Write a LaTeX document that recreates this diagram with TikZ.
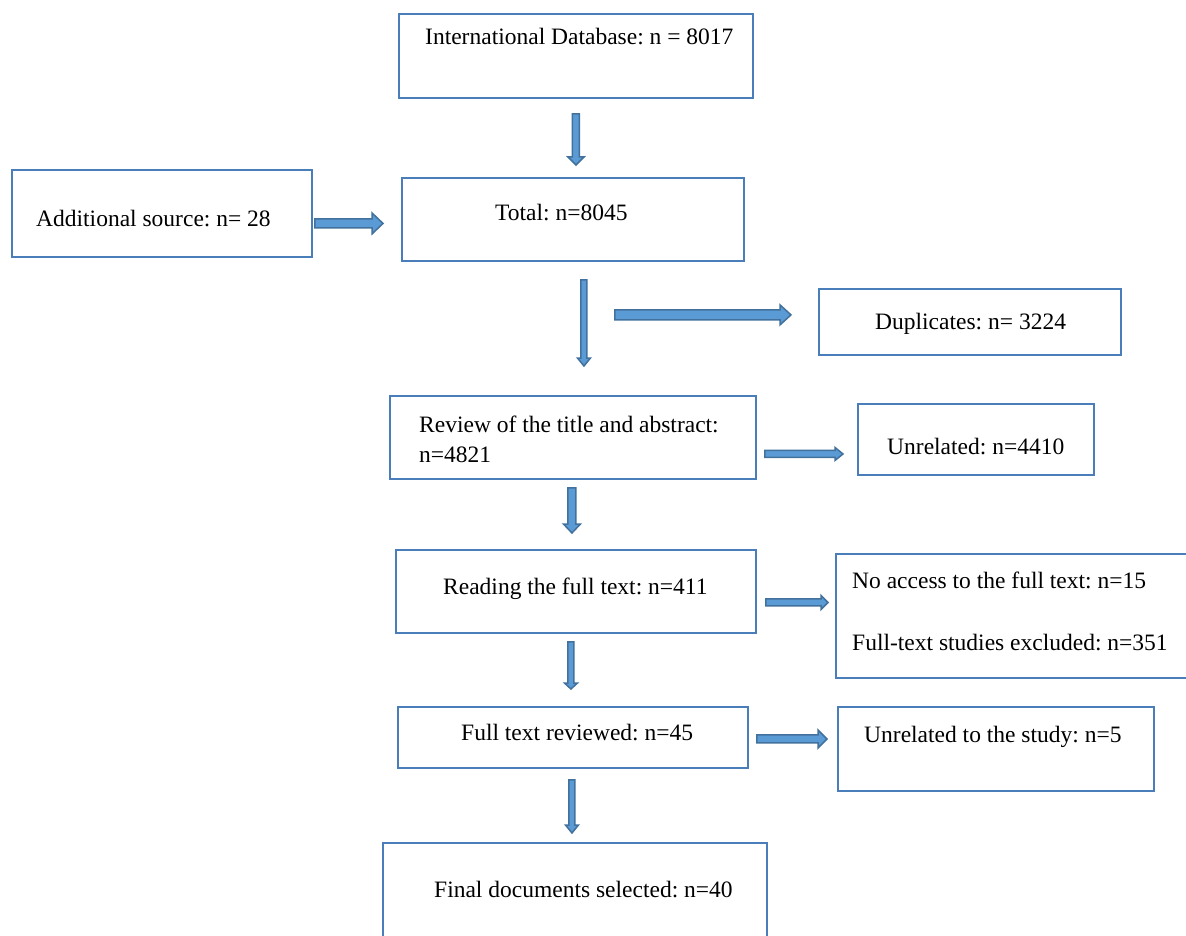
\documentclass[tikz,border=0pt]{standalone}
\usepackage{fontspec}
\setmainfont{Liberation Serif}
\frenchspacing
\usetikzlibrary{calc}
\definecolor{boxline}{HTML}{4A7EBB}
\definecolor{arrfill}{HTML}{5B9BD5}
\definecolor{arrline}{HTML}{41719C}
\tikzset{
  box/.style={draw=boxline, line width=1.9pt, fill=white, rectangle, inner sep=0pt, anchor=north west},
  txt/.style={inner sep=0pt, anchor=base west, font=\fontsize{23.5}{28}\selectfont\frenchspacing},
  blk/.style={fill=arrfill, draw=arrline, line width=1.5pt, line join=miter}
}
\newcommand\blkdown[5]{%
  \filldraw[blk] let \p1=#1, \p2=#2 in
    (\x1-#3,\y1) -- (\x1+#3,\y1) -- (\x1+#3,\y2+#5) -- (\x1+#4,\y2+#5) --
    (\x1,\y2) -- (\x1-#4,\y2+#5) -- (\x1-#3,\y2+#5) -- cycle;}
\newcommand\blkright[5]{%
  \filldraw[blk] let \p1=#1, \p2=#2 in
    (\x1,\y1-#3) -- (\x1,\y1+#3) -- (\x2-#5,\y1+#3) -- (\x2-#5,\y1+#4) --
    (\x2,\y1) -- (\x2-#5,\y1-#4) -- (\x2-#5,\y1-#3) -- cycle;}
\begin{document}
\begin{tikzpicture}[x=1pt,y=-1pt]
\useasboundingbox (0,0) rectangle (1186,936);
\clip (0,0) rectangle (1186,936);
\fill[white] (0,0) rectangle (1186,936);

% boxes
\node[box, minimum width=354pt, minimum height=84pt] (db) at (398,13) {};
\node[box, minimum width=300pt, minimum height=87pt] (add) at (11,169) {};
\node[box, minimum width=342pt, minimum height=83pt] (total) at (401,177) {};
\node[box, minimum width=302pt, minimum height=66pt] (dup) at (818,288) {};
\node[box, minimum width=366pt, minimum height=83pt] (review) at (389,395) {};
\node[box, minimum width=236pt, minimum height=71pt] (unrel) at (857,403) {};
\node[box, minimum width=360pt, minimum height=83pt] (reading) at (395,549) {};
\node[box, minimum width=380pt, minimum height=124pt] (noacc) at (835,553) {};
\node[box, minimum width=350pt, minimum height=61pt] (ftr) at (397,706) {};
\node[box, minimum width=316pt, minimum height=84pt] (unst) at (837,706) {};
\node[box, minimum width=384pt, minimum height=120pt] (final) at (382,842) {};

% texts
\node[txt] (dbt) at (425,45) {International Database: n = 8017};
\node[txt] (addt) at (36,227) {Additional source: n= 28};
\node[txt] (totalt) at (495,221) {Total: n=8045};
\node[txt] (dupt) at (875,329) {Duplicates: n= 3224};
\node[txt] (reviewt1) at (419,432) {Review of the title and abstract:};
\node[txt] (reviewt2) at (419,462) {n=4821};
\node[txt] (unrelt) at (887,454) {Unrelated: n=4410};
\node[txt] (readingt) at (443,594) {Reading the full text: n=411};
\node[txt] (noacct1) at (852,588) {No access to the full text: n=15};
\node[txt] (noacct2) at (852,650) {Full-text studies excluded: n=351};
\node[txt] (ftrt) at (461,740) {Full text reviewed: n=45};
\node[txt] (unstt) at (864,742) {Unrelated to the study: n=5};
\node[txt] (finalt) at (434,897) {Final documents selected: n=40};

% block arrows
\blkdown{($(db.south)+(0,15)$)}{($(total.north)+(0,-12)$)}{3.5pt}{8pt}{8pt}
\blkright{($(add.east)+(2,10)$)}{($(total.west)+(-18,0)$)}{4.5pt}{10.5pt}{11pt}
\blkdown{($(total.south)+(11,18)$)}{($(review.north)+(0,-29)$)}{3pt}{6.5pt}{8pt}
\blkright{($(total.south east)+(-130,53)$)}{($(dup.west)+(-27,0)$)}{5pt}{10pt}{11pt}
\blkright{($(review.east)+(8,16.5)$)}{($(unrel.west)+(-14,0)$)}{3.5pt}{6.5pt}{8pt}
\blkdown{($(review.south)+(-1,8)$)}{($(reading.north)+(0,-16)$)}{4pt}{8.5pt}{9pt}
\blkright{($(reading.east)+(9,11)$)}{($(noacc.west)+(-7,0)$)}{3.5pt}{7pt}{7pt}
\blkdown{($(reading.south)+(-5,8)$)}{($(ftr.north)+(0,-17)$)}{3pt}{6.5pt}{6pt}
\blkright{($(ftr.east)+(8,1.5)$)}{($(unst.west)+(-10,0)$)}{4pt}{9pt}{9pt}
\blkdown{($(ftr.south)+(-1,11)$)}{($(final.north)+(0,-9)$)}{3pt}{6.5pt}{8pt}
\end{tikzpicture}
\end{document}
